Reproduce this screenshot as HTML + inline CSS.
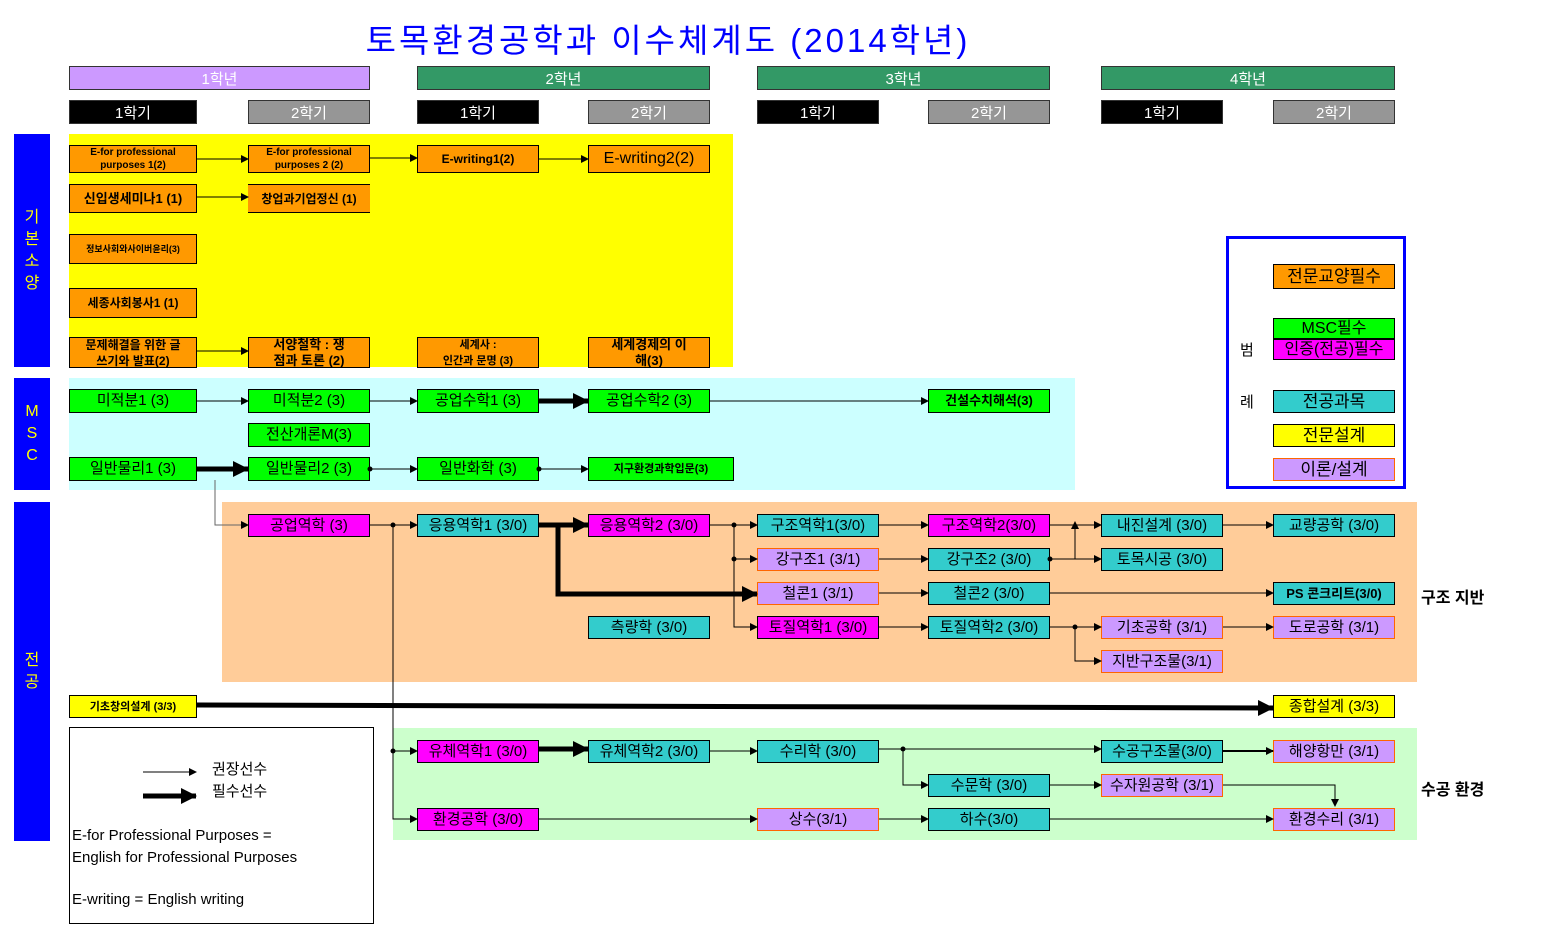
<!DOCTYPE html>
<html><head><meta charset="utf-8"><style>
body{margin:0;width:1541px;height:938px;background:#fff;position:relative;overflow:hidden;font-family:"Liberation Sans","Noto Sans CJK KR",sans-serif}
div{position:absolute;box-sizing:border-box}
.b{display:flex;align-items:center;justify-content:center;text-align:center;border:1px solid #000;font-size:15px;line-height:16px;color:#000;white-space:nowrap;overflow:hidden}
.o{background:#ff9900}.g{background:#00ff00}.t{background:#33cccc}.m{background:#ff00ff}.p{background:#cc99ff;border-color:#ff6600}.y{background:#ffff00}
.sm{font-size:10px;line-height:13px;font-weight:bold}
.yr{color:#fff;font-size:15px;display:flex;align-items:center;justify-content:center;border:1px solid #333}
.side{background:#0000ff;color:#ffff00;font-size:16px;display:flex;align-items:center;justify-content:center;text-align:center;line-height:22px}
</style></head><body>
<div style="left:0;top:14px;width:1336px;text-align:center;color:#0000ff;font-size:33px;letter-spacing:3px">토목환경공학과 이수체계도 (2014학년)</div>

<div class="yr" style="left:69px;top:66px;width:301px;height:24px;background:#cc99ff">1학년</div>
<div class="yr" style="left:417px;top:66px;width:293px;height:24px;background:#339966">2학년</div>
<div class="yr" style="left:757px;top:66px;width:293px;height:24px;background:#339966">3학년</div>
<div class="yr" style="left:1101px;top:66px;width:294px;height:24px;background:#339966">4학년</div>
<div class="yr" style="left:69px;top:100px;width:128px;height:24px;background:#000">1학기</div>
<div class="yr" style="left:248px;top:100px;width:122px;height:24px;background:#969696">2학기</div>
<div class="yr" style="left:417px;top:100px;width:122px;height:24px;background:#000">1학기</div>
<div class="yr" style="left:588px;top:100px;width:122px;height:24px;background:#969696">2학기</div>
<div class="yr" style="left:757px;top:100px;width:122px;height:24px;background:#000">1학기</div>
<div class="yr" style="left:928px;top:100px;width:122px;height:24px;background:#969696">2학기</div>
<div class="yr" style="left:1101px;top:100px;width:122px;height:24px;background:#000">1학기</div>
<div class="yr" style="left:1273px;top:100px;width:122px;height:24px;background:#969696">2학기</div>

<div style="left:69px;top:134px;width:664px;height:233px;background:#ffff00"></div>
<div style="left:69px;top:378px;width:1006px;height:112px;background:#ccffff"></div>
<div style="left:222px;top:502px;width:1195px;height:180px;background:#ffcc99"></div>
<div style="left:393px;top:728px;width:1024px;height:112px;background:#ccffcc"></div>

<div class="side" style="left:14px;top:134px;width:36px;height:233px">기<br>본<br>소<br>양</div>
<div class="side" style="left:14px;top:378px;width:36px;height:112px">M<br>S<br>C</div>
<div class="side" style="left:14px;top:502px;width:36px;height:339px">전<br>공</div>

<div class="b o sm" style="left:69px;top:145px;width:128px;height:28px">E-for professional<br>purposes 1(2)</div>
<div class="b o sm" style="left:248px;top:145px;width:122px;height:28px">E-for professional<br>purposes 2 (2)</div>
<div class="b o" style="left:417px;top:145px;width:122px;height:28px;font-size:12px;font-weight:bold">E-writing1(2)</div>
<div class="b o" style="left:588px;top:145px;width:122px;height:28px;font-size:16px">E-writing2(2)</div>
<div class="b o" style="left:69px;top:184px;width:128px;height:29px;font-size:13px;font-weight:bold">신입생세미나1 (1)</div>
<div class="b o" style="left:248px;top:184px;width:122px;height:29px;font-size:12px;font-weight:bold;border-left:0;border-right:0">창업과기업정신 (1)</div>
<div class="b o" style="left:69px;top:234px;width:128px;height:30px;font-size:9px;font-weight:bold">정보사회와사이버윤리(3)</div>
<div class="b o" style="left:69px;top:288px;width:128px;height:30px;font-size:12px;font-weight:bold">세종사회봉사1 (1)</div>
<div class="b o" style="left:69px;top:337px;width:128px;height:31px;font-size:12px;font-weight:bold">문제해결을 위한 글<br>쓰기와 발표(2)</div>
<div class="b o" style="left:248px;top:337px;width:122px;height:31px;font-size:13px;font-weight:bold">서양철학 : 쟁<br>점과 토론 (2)</div>
<div class="b o" style="left:417px;top:337px;width:122px;height:31px;font-size:11px;font-weight:bold">세계사 :<br>인간과 문명 (3)</div>
<div class="b o" style="left:588px;top:337px;width:122px;height:31px;font-size:13px;font-weight:bold">세계경제의 이<br>해(3)</div>

<div class="b g" style="left:69px;top:389px;width:128px;height:24px">미적분1 (3)</div>
<div class="b g" style="left:248px;top:389px;width:122px;height:24px">미적분2 (3)</div>
<div class="b g" style="left:417px;top:389px;width:122px;height:24px">공업수학1 (3)</div>
<div class="b g" style="left:588px;top:389px;width:122px;height:24px">공업수학2 (3)</div>
<div class="b g" style="left:928px;top:389px;width:122px;height:24px;font-size:13px;font-weight:bold">건설수치해석(3)</div>
<div class="b g" style="left:248px;top:423px;width:122px;height:24px">전산개론M(3)</div>
<div class="b g" style="left:69px;top:457px;width:128px;height:24px">일반물리1 (3)</div>
<div class="b g" style="left:248px;top:457px;width:122px;height:24px">일반물리2 (3)</div>
<div class="b g" style="left:417px;top:457px;width:122px;height:24px">일반화학 (3)</div>
<div class="b g" style="left:588px;top:457px;width:146px;height:24px;font-size:11px;font-weight:bold">지구환경과학입문(3)</div>

<div class="b m" style="left:248px;top:514px;width:122px;height:23px">공업역학 (3)</div>
<div class="b t" style="left:417px;top:514px;width:122px;height:23px">응용역학1 (3/0)</div>
<div class="b m" style="left:588px;top:514px;width:122px;height:23px">응용역학2 (3/0)</div>
<div class="b t" style="left:757px;top:514px;width:122px;height:23px">구조역학1(3/0)</div>
<div class="b m" style="left:928px;top:514px;width:122px;height:23px">구조역학2(3/0)</div>
<div class="b t" style="left:1101px;top:514px;width:122px;height:23px">내진설계 (3/0)</div>
<div class="b t" style="left:1273px;top:514px;width:122px;height:23px">교량공학 (3/0)</div>
<div class="b p" style="left:757px;top:548px;width:122px;height:23px">강구조1 (3/1)</div>
<div class="b t" style="left:928px;top:548px;width:122px;height:23px">강구조2 (3/0)</div>
<div class="b t" style="left:1101px;top:548px;width:122px;height:23px">토목시공 (3/0)</div>
<div class="b p" style="left:757px;top:582px;width:122px;height:23px">철콘1 (3/1)</div>
<div class="b t" style="left:928px;top:582px;width:122px;height:23px">철콘2 (3/0)</div>
<div class="b t" style="left:1273px;top:582px;width:122px;height:23px;font-size:13px;font-weight:bold">PS 콘크리트(3/0)</div>
<div class="b t" style="left:588px;top:616px;width:122px;height:23px">측량학 (3/0)</div>
<div class="b m" style="left:757px;top:616px;width:122px;height:23px">토질역학1 (3/0)</div>
<div class="b t" style="left:928px;top:616px;width:122px;height:23px">토질역학2 (3/0)</div>
<div class="b p" style="left:1101px;top:616px;width:122px;height:23px">기초공학 (3/1)</div>
<div class="b p" style="left:1273px;top:616px;width:122px;height:23px">도로공학 (3/1)</div>
<div class="b p" style="left:1101px;top:650px;width:122px;height:23px">지반구조물(3/1)</div>

<div class="b y" style="left:69px;top:695px;width:128px;height:23px;font-size:11px;font-weight:bold">기초창의설계 (3/3)</div>
<div class="b y" style="left:1273px;top:695px;width:122px;height:23px">종합설계 (3/3)</div>

<div class="b m" style="left:417px;top:740px;width:122px;height:23px">유체역학1 (3/0)</div>
<div class="b t" style="left:588px;top:740px;width:122px;height:23px">유체역학2 (3/0)</div>
<div class="b t" style="left:757px;top:740px;width:122px;height:23px">수리학 (3/0)</div>
<div class="b t" style="left:1101px;top:740px;width:122px;height:23px">수공구조물(3/0)</div>
<div class="b p" style="left:1273px;top:740px;width:122px;height:23px">해양항만 (3/1)</div>
<div class="b t" style="left:928px;top:774px;width:122px;height:23px">수문학 (3/0)</div>
<div class="b p" style="left:1101px;top:774px;width:122px;height:23px">수자원공학 (3/1)</div>
<div class="b m" style="left:417px;top:808px;width:122px;height:23px">환경공학 (3/0)</div>
<div class="b p" style="left:757px;top:808px;width:122px;height:23px">상수(3/1)</div>
<div class="b t" style="left:928px;top:808px;width:122px;height:23px">하수(3/0)</div>
<div class="b p" style="left:1273px;top:808px;width:122px;height:23px">환경수리 (3/1)</div>

<div style="left:1421px;top:584px;font-size:16px;font-weight:bold">구조 지반</div>
<div style="left:1421px;top:776px;font-size:16px;font-weight:bold">수공 환경</div>

<div style="left:1226px;top:236px;width:180px;height:253px;border:3px solid #0000ff"></div>
<div style="left:1240px;top:339px;font-size:15px">범</div>
<div style="left:1240px;top:391px;font-size:15px">례</div>
<div class="b o" style="left:1273px;top:264px;width:122px;height:25px;font-size:17px">전문교양필수</div>
<div class="b g" style="left:1273px;top:318px;width:122px;height:21px;font-size:16px">MSC필수</div>
<div class="b m" style="left:1273px;top:339px;width:122px;height:21px;font-size:16px">인증(전공)필수</div>
<div class="b t" style="left:1273px;top:390px;width:122px;height:23px;font-size:17px">전공과목</div>
<div class="b y" style="left:1273px;top:424px;width:122px;height:23px;font-size:17px">전문설계</div>
<div class="b p" style="left:1273px;top:458px;width:122px;height:23px;font-size:17px">이론/설계</div>

<div style="left:69px;top:727px;width:305px;height:197px;border:1px solid #000"></div>
<div style="left:212px;top:758px;font-size:15px">권장선수</div>
<div style="left:212px;top:780px;font-size:15px">필수선수</div>
<div style="left:72px;top:825px;font-size:15px;line-height:22px">E-for Professional Purposes =<br>English for Professional Purposes</div>
<div style="left:72px;top:891px;font-size:15px">E-writing = English writing</div>

<svg style="position:absolute;left:0;top:0" width="1541" height="938">
<defs>
<marker id="a" markerWidth="8" markerHeight="8" refX="7" refY="4" orient="auto" markerUnits="userSpaceOnUse"><path d="M0,0L8,4L0,8z"/></marker>
<marker id="A" markerWidth="16" markerHeight="16" refX="15" refY="8" orient="auto" markerUnits="userSpaceOnUse"><path d="M0,0L16,8L0,16z"/></marker>
</defs>
<g stroke="#000" stroke-width="1" fill="none" marker-end="url(#a)">
<path d="M197,159H248"/><path d="M370,158H417"/><path d="M539,159H588"/>
<path d="M197,197H248"/><path d="M197,351H248"/>
<path d="M197,401H248"/><path d="M370,401H417"/><path d="M710,401H928"/>
<path d="M370,469H417"/><path d="M539,469H588"/>
<path d="M215,480V525H248" stroke="#666"/>
<path d="M370,525H417"/><path d="M393,525V751H417"/><path d="M393,751V819H417"/>
<path d="M710,525H757"/><path d="M734,525V559H757"/><path d="M734,559V627H757"/>
<path d="M879,525H928"/><path d="M879,559H928"/><path d="M879,593H928"/><path d="M879,627H928"/>
<path d="M1050,525H1101"/><path d="M1050,559H1101"/><path d="M1075,559V522"/>
<path d="M1223,525H1273"/><path d="M1050,593H1273"/>
<path d="M1050,627H1101"/><path d="M1075,627V661H1101"/><path d="M1223,627H1273"/>
<path d="M710,751H757"/><path d="M879,749H1101"/><path d="M903,749V785H928"/>
<path d="M1050,785H1101"/><path d="M1223,785H1335V806"/>
<path d="M539,819H757"/><path d="M879,819H928"/><path d="M1050,819H1273"/>
<path d="M143,772H196"/>
</g>
<g stroke="#000" stroke-width="2" fill="none" marker-end="url(#a)"><path d="M1223,751H1273"/></g>
<g stroke="#000" stroke-width="5" fill="none" marker-end="url(#A)">
<path d="M539,401H588"/><path d="M197,469H248"/><path d="M539,525H588"/>
<path d="M558,525V594H757"/><path d="M197,705L1273,708"/><path d="M539,749H588"/>
<path d="M143,796H196"/>
</g>
<g fill="#000"><circle cx="370" cy="469" r="2.5"/><circle cx="539" cy="469" r="2.5"/><circle cx="393" cy="525" r="2.5"/><circle cx="734" cy="525" r="2.5"/><circle cx="734" cy="559" r="2.5"/><circle cx="1050" cy="559" r="2.5"/><circle cx="1075" cy="627" r="2.5"/><circle cx="903" cy="749" r="2.5"/><circle cx="393" cy="751" r="2.5"/></g>
</svg>
</body></html>
